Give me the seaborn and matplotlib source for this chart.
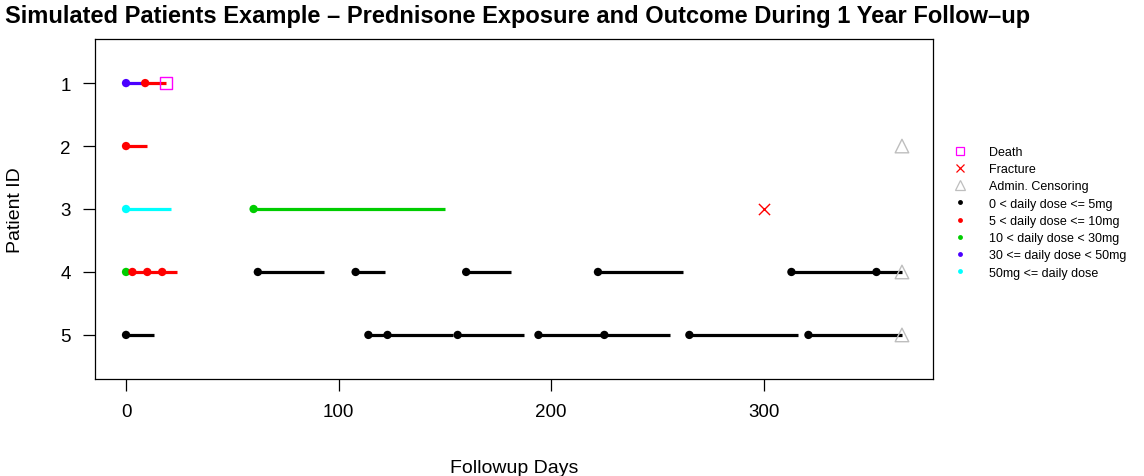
import pandas as pd
import matplotlib
matplotlib.use("Agg")
import matplotlib.pyplot as plt
from matplotlib.lines import Line2D
import seaborn as sns

### data
# exposure segments: patient, start day, end day, dose group
seg_patient = [1, 1,
               2,
               3, 3,
               4, 4, 4, 4, 4, 4, 4, 4, 4, 4,
               5, 5, 5, 5, 5, 5, 5, 5]
seg_start = [0, 9,
             0,
             0, 60,
             0, 3, 10, 17, 62, 108, 160, 222, 313, 353,
             0, 114, 123, 156, 194, 225, 265, 321]
seg_end = [9, 19,
           10,
           21, 150,
           3, 10, 17, 24, 93, 122, 181, 262, 353, 365,
           13, 123, 154, 187, 225, 256, 316, 365]
seg_dose = ["30-50", "5-10",
            "5-10",
            "50+", "10-30",
            "10-30", "5-10", "5-10", "5-10", "0-5", "0-5", "0-5", "0-5", "0-5", "0-5",
            "0-5", "0-5", "0-5", "0-5", "0-5", "0-5", "0-5", "0-5"]

# outcome events
death_patient = [1]
death_day = [19]
fracture_patient = [3]
fracture_day = [300]
censor_patient = [2, 4, 5]
censor_day = [365, 365, 365]

dose_groups = ["0-5", "5-10", "10-30", "30-50", "50+"]
dose_labels = ["0 < daily dose <= 5mg", "5 < daily dose <= 10mg",
               "10 < daily dose < 30mg", "30 <= daily dose < 50mg",
               "50mg <= daily dose"]
dose_colors = ["black", "#FF0000", "#00CD00", "#4B00FF", "#00FFFF"]
palette = dict(zip(dose_groups, dose_colors))

segs = pd.DataFrame({"patient": seg_patient, "start": seg_start,
                     "end": seg_end, "dose": seg_dose})

#-------------------------------------------------------------------------------
sns.set_style("white")
plt.rcParams["font.family"] = ["Liberation Sans", "DejaVu Sans"]
plt.rcParams["text.color"] = "black"
plt.rcParams["axes.labelcolor"] = "black"
plt.rcParams["xtick.color"] = "black"
plt.rcParams["ytick.color"] = "black"

fig = plt.figure(figsize=(11.44, 4.77), dpi=100)
ax = fig.add_axes([95 / 1144, 1 - 380 / 477, (933 - 95) / 1144, (380 - 40) / 477])

# dose lines
for dose, grp in segs.groupby("dose"):
    ax.hlines(grp["patient"], grp["start"], grp["end"], color=palette[dose],
              linewidth=2.3, zorder=2)

# start dots
sns.scatterplot(data=segs, x="start", y="patient", hue="dose", palette=palette,
                s=36, linewidth=0, legend=False, ax=ax, zorder=3)

# events
ax.scatter(death_day, death_patient, marker="s", s=75, facecolors="none",
           edgecolors="#FF00FF", linewidths=1, zorder=4)
ax.scatter(fracture_day, fracture_patient, marker="x", s=65, color="#FF0000",
           linewidths=1, zorder=4)
ax.scatter(censor_day, censor_patient, marker="^", s=95, facecolors="none",
           edgecolors="#BEBEBE", linewidths=1, zorder=4)

ax.set_xlim(-14.6, 379.6)
ax.set_ylim(5.7, 0.3)
ax.set_xticks([0, 100, 200, 300])
ax.set_yticks([1, 2, 3, 4, 5])
ax.tick_params(direction="out", length=8.5, width=0.9, labelsize=13.5, pad=9,
               bottom=True, left=True, color="black")
for sp in ax.spines.values():
    sp.set_color("black")
    sp.set_linewidth(0.9)

ax.set_xlabel("Followup Days", fontsize=14, labelpad=28)
ax.set_ylabel("Patient ID", fontsize=14, labelpad=26)
fig.text(5 / 1144, 1 - 17 / 477, "Simulated Patients Example \u2013 Prednisone Exposure and Outcome During 1 Year Follow\u2013up",
         fontsize=17, fontweight="bold", ha="left", va="center")

# legend
handles = [Line2D([], [], marker="s", linestyle="none", markersize=6,
                  markerfacecolor="none", markeredgecolor="#FF00FF", markeredgewidth=0.9),
           Line2D([], [], marker="x", linestyle="none", markersize=6,
                  color="#FF0000", markeredgewidth=0.9),
           Line2D([], [], marker="^", linestyle="none", markersize=7,
                  markerfacecolor="none", markeredgecolor="#BEBEBE", markeredgewidth=0.9)]
handles += [Line2D([], [], marker="o", linestyle="none", markersize=3.5,
                   markerfacecolor=c, markeredgewidth=0) for c in dose_colors]
labels = ["Death", "Fracture", "Admin. Censoring"] + dose_labels
fig.legend(handles, labels, loc="upper left", bbox_to_anchor=(954 / 1144, 1 - 147 / 477),
           frameon=False, fontsize=9, handlelength=1, handletextpad=1.8,
           labelspacing=0.42, borderpad=0, borderaxespad=0)

fig.savefig("out.png", dpi=100)
